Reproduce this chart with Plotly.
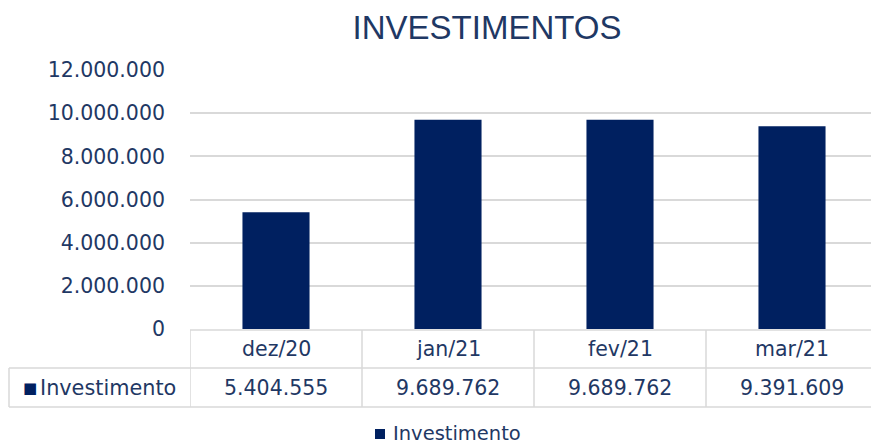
import plotly.graph_objects as go

categories = ["dez/20", "jan/21", "fev/21", "mar/21"]
values = [5404555, 9689762, 9689762, 9391609]
series_name = "Investimento"
tick_vals = [0, 2000000, 4000000, 6000000, 8000000, 10000000, 12000000]
tick_text = ["0", "2.000.000", "4.000.000", "6.000.000", "8.000.000", "10.000.000", "12.000.000"]
value_text = ["5.404.555", "9.689.762", "9.689.762", "9.391.609"]

W, H = 871, 445
ML, MR, MT, MB = 190, 0, 70, 116
PW, PH = W - ML - MR, H - MT - MB
CAT_W = 172  # px per category
x_max = -0.5 + PW / CAT_W

BAR = "#002060"
TXT = "#1F3864"
GRID = "#D9D9D9"
FONT = "DejaVu Sans"


def py(p):  # pixel y -> paper y
    return (H - MB - p) / PH


def px(p):  # pixel x -> paper x
    return (p - ML) / PW


fig = go.Figure()
fig.add_trace(go.Bar(x=list(range(len(categories))), y=values, name=series_name,
                     marker=dict(color=BAR, line=dict(width=0)), width=0.39,
                     showlegend=False))

shapes = []
shapes.append(dict(type="line", xref="x", yref="paper", x0=-0.5, x1=x_max + 0.5,
                   y0=py(330), y1=py(330), line=dict(color=GRID, width=1.5)))
for yy in (368, 407):
    shapes.append(dict(type="line", xref="paper", yref="paper", x0=px(9), x1=1.05,
                       y0=py(yy), y1=py(yy), line=dict(color=GRID, width=1.5)))
shapes.append(dict(type="line", xref="paper", yref="paper", x0=px(9), x1=px(9),
                   y0=py(368), y1=py(407), line=dict(color=GRID, width=1.5)))
for i in range(len(categories)):
    shapes.append(dict(type="line", xref="x", yref="paper", x0=i - 0.5, x1=i - 0.5,
                       y0=py(330), y1=py(407), line=dict(color=GRID, width=1.5)))
# legend key square
shapes.append(dict(type="rect", xref="paper", yref="paper", x0=px(375), x1=px(385),
                   y0=py(429), y1=py(439), fillcolor=BAR, line=dict(width=0)))

annotations = []
for i, (c, v) in enumerate(zip(categories, value_text)):
    annotations.append(dict(x=i, y=py(349), xref="x", yref="paper", text=c, showarrow=False,
                            font=dict(family=FONT, size=20.5, color=TXT), xanchor="center", yanchor="middle"))
    annotations.append(dict(x=i, y=py(388), xref="x", yref="paper", text=v, showarrow=False,
                            font=dict(family=FONT, size=20.5, color=TXT), xanchor="center", yanchor="middle"))
annotations.append(dict(x=px(21), y=py(388), xref="paper", yref="paper",
                        text="■", showarrow=False,
                        font=dict(family=FONT, size=15, color=BAR), xanchor="left", yanchor="middle"))
annotations.append(dict(x=px(38), y=py(388), xref="paper", yref="paper",
                        text=series_name, showarrow=False,
                        font=dict(family=FONT, size=20.8, color=TXT), xanchor="left", yanchor="middle"))
# legend text
annotations.append(dict(x=px(393), y=py(444.5), xref="paper", yref="paper",
                        text=series_name, showarrow=False, borderpad=0, borderwidth=0,
                        font=dict(family=FONT, size=19.5, color=TXT), xanchor="left", yanchor="bottom"))

fig.update_layout(
    width=W, height=H,
    margin=dict(l=ML, r=MR, t=MT, b=MB, pad=0),
    paper_bgcolor="white", plot_bgcolor="white",
    title=dict(text="INVESTIMENTOS", x=487 / W, xanchor="center", xref="container",
               y=1 - 27 / H, yanchor="middle", yref="container",
               font=dict(family="Liberation Sans", size=33, color=TXT)),
    xaxis=dict(range=[-0.5, x_max], showticklabels=False, showgrid=False, zeroline=False,
               showline=False, ticks=""),
    yaxis=dict(range=[0, 12000000], tickvals=tick_vals, ticktext=tick_text,
               showgrid=True, gridcolor=GRID, gridwidth=1.5, zeroline=False, showline=False,
               ticks="", ticklabelstandoff=24,
               tickfont=dict(family=FONT, size=20.5, color=TXT)),
    showlegend=False,
    shapes=shapes, annotations=annotations,
    bargap=0.6,
)

fig.write_html("out.html", config={"displayModeBar": False},
               post_script="document.body.style.margin='0';document.body.style.padding='0';")
